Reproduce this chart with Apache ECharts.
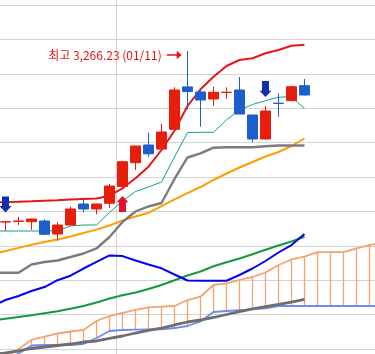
<!DOCTYPE html>
<html><head><meta charset="utf-8">
<script src="https://cdn.jsdelivr.net/npm/echarts@6/dist/echarts.min.js"></script>
<style>html,body{margin:0;padding:0;background:#fff}#c{width:375px;height:354px}</style>
</head><body><div id="c"></div>
<script>
// Categories: one lead day (off the left edge), 24 trading days with candles, 6 future days (cloud only)
const categories = ['12/16','12/17','12/18','12/21','12/22','12/23','12/24','12/28','12/29','12/30',
  '01/04','01/05','01/06','01/07','01/08','01/11','01/12','01/13','01/14','01/15',
  '01/18','01/19','01/20','01/21','01/22','01/25','01/26','01/27','01/28','01/29','02/01'];
const candleDates = categories.slice(1, 25);
const yearStarts = ['01/04'];
const openPrices  = [2769.0,2771.0,2770.1,2772.1,2734.3,2760.5,2821.5,2807.0,2823.6,2872.5,2941.6,2993.0,2981.2,3038.6,3161.9,3147.1,3126.8,3145.5,3152.9,3080.2,3010.5,3114.3,3121.9,3165.4];
const closePrices = [2770.1,2772.2,2777.9,2733.4,2760.5,2807.0,2807.0,2821.5,2873.8,2944.5,2990.1,2967.4,3030.8,3152.9,3148.5,3123.9,3146.2,3146.5,3083.1,3010.5,3091.9,3114.0,3162.5,3138.4];
const lowPrices   = [2743.0,2760.5,2746.0,2731.0,2714.8,2760.0,2797.4,2791.6,2810.0,2869.5,2920.4,2959.0,2980.0,3038.0,3096.2,3046.2,3107.3,3126.8,3083.0,3000.9,3009.0,3075.3,3121.0,3137.0];
const highPrices  = [2771.0,2784.6,2779.0,2777.0,2768.3,2813.7,2835.2,2822.0,2879.6,2947.4,2990.5,3028.8,3054.1,3161.1,3266.23,3155.0,3162.5,3160.8,3190.7,3081.0,3106.4,3143.3,3165.4,3184.9];
// Bollinger bands (20) and moving averages, one value per category up to 01/22
const bbUpper = [2826.5,2827.3,2828.2,2829.6,2831.1,2832.6,2834.6,2836.1,2837.5,2845.6,2867.2,2896.2,2930.0,2978.5,3034.6,3106.4,3155.0,3191.6,3222.7,3240.1,3245.1,3259.6,3269.2,3281.7,3284.6];
const ma20    = [2676.2,2684.9,2693.9,2703.2,2710.8,2718.3,2726.8,2737.0,2747.0,2759.0,2774.0,2785.0,2796.0,2815.5,2835.0,2853.0,2870.9,2891.3,2910.2,2927.6,2943.6,2959.6,2972.7,2990.1,3011.9];
const bbLower = [2525.0,2542.4,2554.1,2568.6,2580.2,2600.0,2613.0,2634.0,2653.0,2672.0,2670.0,2657.3,2645.6,2634.6,2616.6,2599.1,2598.5,2598.5,2598.5,2615.1,2634.0,2655.8,2680.5,2702.3,2734.3];
const ma60    = [2482.8,2488.1,2493.0,2498.0,2503.8,2509.6,2517.2,2525.0,2535.2,2546.8,2556.1,2564.2,2574.4,2586.0,2599.7,2613.7,2625.3,2640.4,2652.0,2663.1,2675.3,2688.4,2700.9,2712.5,2726.2];
const ma120   = [2384.0,2388.4,2394.2,2401.5,2405.8,2410.2,2414.5,2420.3,2423.3,2431.1,2437.8,2446.5,2453.8,2461.0,2469.8,2478.5,2484.3,2491.6,2500.3,2508.4,2516.3,2523.5,2529.4,2536.6,2543.9];
// Ichimoku
const tenkan  = [2743.0,2743.0,2743.0,2743.0,2743.0,2744.5,2757.6,2760.5,2760.5,2796.8,2830.2,2857.9,2870.9,2885.5,2958.1,3029.4,3029.9,3029.9,3066.0,3094.8,3110.8,3121.8,3131.7,3134.0,3098.6];
const kijun   = [2621.8,2621.8,2621.8,2645.6,2652.9,2657.3,2667.4,2677.6,2692.2,2725.6,2769.2,2799.7,2814.3,2824.4,2894.2,2956.7,2968.9,2985.2,2986.3,2986.3,2986.3,2989.3,2991.6,2991.6,2991.6];
const spanA   = [2356.4,2377.9,2400.0,2426.2,2436.3,2445.1,2450.9,2455.2,2481.4,2495.9,2504.7,2513.4,2521.2,2523.0,2525.0,2542.4,2552.0,2586.0,2591.0,2600.6,2609.3,2622.4,2644.2,2660.2,2668.3,2681.4,2681.4,2681.4,2692.7,2702.3,2708.1];
const spanB   = [2340.0,2362.0,2386.9,2410.2,2411.6,2411.6,2411.6,2414.5,2432.0,2452.3,2455.2,2456.1,2456.7,2457.3,2461.0,2466.9,2480.0,2507.6,2510.5,2512.9,2514.9,2518.3,2525.0,2525.0,2525.0,2525.0,2525.0,2525.0,2525.0,2525.0,2525.0];
// Signals
const sellSignals = ['12/17','01/19'];
const buySignals  = ['01/04'];
const yTicks = [2400, 3400, 100];

const candleData = categories.map(c => {
  const i = candleDates.indexOf(c);
  return i < 0 ? '-' : [openPrices[i], closePrices[i], lowPrices[i], highPrices[i]];
});
let maxI = 0;
highPrices.forEach((h, i) => { if (h > highPrices[maxI]) maxI = i; });
const maxDate = candleDates[maxI], maxVal = highPrices[maxI];
const fmt = v => v.toLocaleString('en-US', {minimumFractionDigits: 2, maximumFractionDigits: 2});

const downArrow = 'path://M2.5,0 H9.5 V9.7 H12 L6,16 L0,9.7 H2.5 Z';
const upArrow = 'path://M6,0 L12,6.3 H9.5 V16 H2.5 V6.3 H0 Z';
const rightArrow = 'path://M0,3.4 H10 V0 L15,4.25 L10,8.5 V5.1 H0 Z';

function line(name, data, color, width, z) {
  return { name, type: 'line', data, symbol: 'none', showSymbol: false, clip: false, z,
    lineStyle: { color, width }, silent: true };
}

const chart = echarts.init(document.getElementById('c'), null, { renderer: 'canvas' });
chart.setOption({
  animation: false,
  grid: { left: -14, top: 5, width: categories.length * 13, height: 344, outerBoundsMode: 'none', containLabel: false },
  xAxis: { type: 'category', data: categories, boundaryGap: true,
    axisLine: { show: false }, axisTick: { show: false }, axisLabel: { show: false }, splitLine: { show: false } },
  yAxis: { type: 'value', min: yTicks[0], max: yTicks[1], interval: yTicks[2], scale: true,
    axisLine: { show: false }, axisTick: { show: false }, axisLabel: { show: false },
    splitLine: { lineStyle: { color: '#d4d4d4', width: 1 } } },
  series: [
    { type: 'custom', clip: false, z: 0, silent: true,
      data: yearStarts.map(d => [categories.indexOf(d), yTicks[0]]),
      encode: { x: 0, y: 1 },
      renderItem: (params, api) => {
        const p = api.coord([api.value(0), api.value(1)]);
        const bw = api.size([1, 0])[0];
        const x = Math.round(p[0] - bw / 2) + 0.5;
        return { type: 'line', shape: { x1: x, y1: 0, x2: x, y2: api.getHeight() },
          style: { stroke: '#d4d4d4', lineWidth: 1 } };
      } },
    { type: 'custom', clip: false, z: 1, silent: true,
      data: categories.map((c, i) => [i, spanA[i], spanB[i]]),
      encode: { x: 0, y: [1, 2] },
      renderItem: (params, api) => {
        const a = api.coord([api.value(0), api.value(1)]);
        const b = api.coord([api.value(0), api.value(2)]);
        return { type: 'line', shape: { x1: a[0], y1: a[1], x2: b[0], y2: b[1] },
          style: { stroke: '#f5a36e', lineWidth: 1.3 } };
      } },
    line('spanA', spanA, '#f5a36e', 1.8, 2),
    line('spanB', spanB, '#6b8cf0', 1.8, 2),
    line('ma120', ma120, '#6e6e6e', 2.8, 3),
    line('ma60', ma60, '#149a3e', 2, 3),
    line('bbLower', bbLower, '#0000f5', 2, 3),
    line('ma20', ma20, '#ff9c00', 2, 3),
    line('kijun', kijun, '#7c7c7c', 2.4, 3),
    line('tenkan', tenkan, '#10a08a', 1, 3),
    line('bbUpper', bbUpper, '#ea1419', 2, 3),
    { type: 'candlestick', data: candleData, barWidth: 11, z: 5, clip: false, silent: true,
      itemStyle: { color: '#e81e0c', color0: '#1a5fcc', borderColor: '#e81e0c', borderColor0: '#1a5fcc', borderWidth: 1 },
      markPoint: { silent: true, animation: false,
        data: [{ coord: [maxDate, maxVal], symbol: rightArrow, symbolSize: [15, 8.5], symbolOffset: [-13.3, 4],
          itemStyle: { color: '#e8141c' },
          label: { show: true, position: 'left', distance: 5, color: '#e8141c', fontSize: 12,
            fontFamily: '"Noto Sans CJK KR", sans-serif',
            formatter: '최고 ' + fmt(maxVal) + ' (' + maxDate + ')' } }] } },
    { type: 'scatter', z: 6, silent: true, symbol: downArrow, symbolSize: [12, 16], symbolOffset: [0, -17],
      itemStyle: { color: '#0e2fae', opacity: 1 },
      data: sellSignals.map(d => [d, highPrices[candleDates.indexOf(d)]]) },
    { type: 'scatter', z: 6, silent: true, symbol: upArrow, symbolSize: [12, 16], symbolOffset: [0, 16.5],
      itemStyle: { color: '#e0102e', opacity: 1 },
      data: buySignals.map(d => [d, lowPrices[candleDates.indexOf(d)]]) }
  ]
});
</script></body></html>
